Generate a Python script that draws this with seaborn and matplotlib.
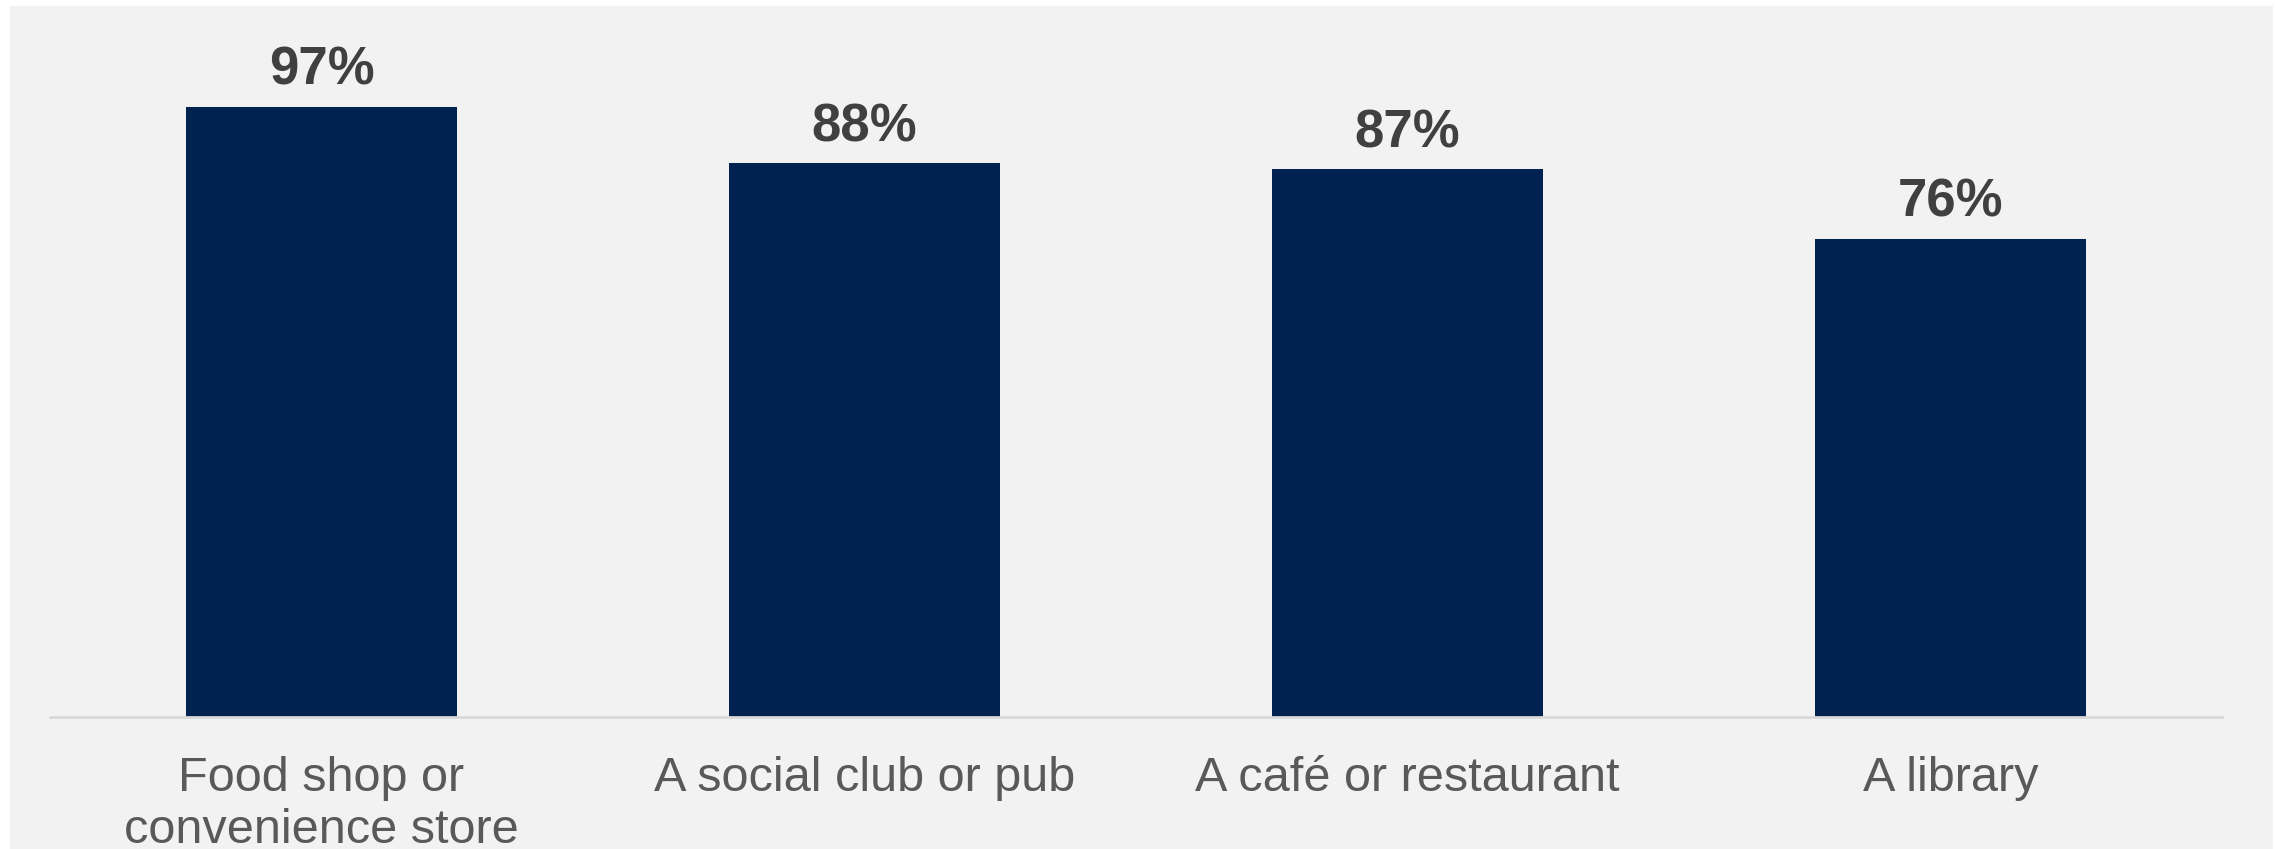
import matplotlib
matplotlib.use("Agg")
import matplotlib.pyplot as plt
import seaborn as sns
import pandas as pd
from matplotlib.patches import Rectangle

# Share of respondents naming each local amenity
categories = ["Food shop or\nconvenience store", "A social club or pub",
              "A café or restaurant", "A library"]
values = [97, 88, 87, 76]
value_labels = ["97%", "88%", "87%", "76%"]

df = pd.DataFrame({"place": categories, "share": values})

sns.set_theme(style="white")
plt.rcParams["font.family"] = ["Liberation Sans", "DejaVu Sans"]

fig = plt.figure(figsize=(22.75, 8.49), dpi=100, facecolor="white")

# light grey panel behind the chart
fig.patches.append(Rectangle((10 / 2275, -0.01), (2273 - 10) / 2275,
                             1.01 - 6 / 849,
                             transform=fig.transFigure, facecolor="#F2F2F2",
                             edgecolor="none", zorder=-5))

ax = fig.add_axes([50 / 2275, 1 - 716.7 / 849, (2222 - 50) / 2275,
                   (716.7 - 87.7) / 849])
ax.set_facecolor("none")
ax.set_zorder(2)

sns.barplot(data=df, x="place", y="share", color="#002250", width=0.5,
            saturation=1, ax=ax, edgecolor="none")

ax.set_xlim(-0.5, 3.5)
ax.set_ylim(0, 100)
ax.set_xlabel("")
ax.set_ylabel("")
ax.set_yticks([])
for side in ["top", "right", "left"]:
    ax.spines[side].set_visible(False)
ax.spines["bottom"].set_color("#D9D9D9")
ax.spines["bottom"].set_linewidth(2)

ax.tick_params(axis="x", length=0, pad=28, labelsize=35, labelcolor="#595959")
for lbl in ax.get_xticklabels():
    lbl.set_linespacing(1.2)
    lbl.set_verticalalignment("top")

for i, (v, t) in enumerate(zip(values, value_labels)):
    ax.annotate(t, xy=(i, v), xytext=(0, 8), textcoords="offset points",
                ha="center", va="bottom", fontsize=38, fontweight="bold",
                color="#404040", annotation_clip=False)

fig.savefig("out.png", dpi=100, facecolor="white")
